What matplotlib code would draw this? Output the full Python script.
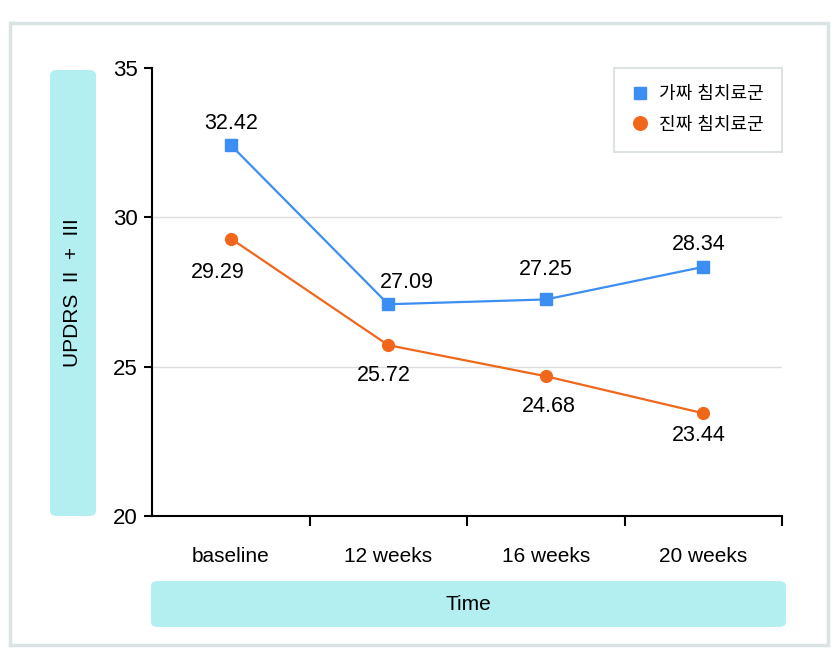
import matplotlib.pyplot as plt
from matplotlib.patches import FancyBboxPatch, Rectangle
import numpy as np

plt.rcParams['font.family'] = ['Liberation Sans', 'Noto Sans CJK KR', 'DejaVu Sans']

# data
times = ['baseline', '12 weeks', '16 weeks', '20 weeks']
sham = [32.42, 27.09, 27.25, 28.34]
real = [29.29, 25.72, 24.68, 23.44]
sham_name = '가짜 침치료군'
real_name = '진짜 침치료군'

blue = '#3d8ef2'
orange = '#f0671c'
cyan = '#b3eff0'

fig = plt.figure(figsize=(8.37, 6.67), dpi=100)
W, H = 837, 667

def fx(px):
    return px / W

def fy(py):
    return 1 - py / H

# outer frame
fig.patches.append(Rectangle((fx(10), fy(645)), fx(818), 622 / H,
                             transform=fig.transFigure, fill=False,
                             edgecolor='#dbe4e4', linewidth=2.5))

ax = fig.add_axes([fx(152), fy(516), 630 / W, 448 / H])
x = np.arange(len(times))
ax.plot(x, sham, color=blue, lw=1.6, marker='s', ms=8, label=sham_name, zorder=3)
ax.plot(x, real, color=orange, lw=1.6, marker='o', ms=8.5, label=real_name, zorder=3)

ax.set_xlim(-0.5, 3.5)
ax.set_ylim(20, 35)
ax.set_yticks([20, 25, 30, 35])
ax.tick_params(axis='y', labelsize=16, length=6, width=1.5, pad=4)
ax.set_xticks([0.5, 1.5, 2.5, 3.5])
ax.set_xticklabels([])
ax.tick_params(axis='x', length=7, width=1.5)
ax.set_xticks(x, minor=True)
ax.set_xticklabels(times, minor=True, fontsize=15)
ax.tick_params(axis='x', which='minor', length=0, pad=22)
for yv in [25, 30]:
    ax.axhline(yv, color='#dddddd', lw=1, zorder=0)
for s in ['top', 'right']:
    ax.spines[s].set_visible(False)
ax.spines['left'].set_linewidth(1.5)
ax.spines['bottom'].set_linewidth(1.5)

# value labels
sham_off = [(0, 22), (0.12, 22), (0, 30), (-0.03, 22)]
real_off = [(-0.08, -34), (-0.03, -30), (0.02, -30), (-0.03, -22)]
for i in range(len(times)):
    ax.annotate(f'{sham[i]:.2f}', (x[i], sham[i]), xytext=(sham_off[i][0] * 157, sham_off[i][1]),
                textcoords='offset pixels', ha='center', va='center', fontsize=15.5)
    ax.annotate(f'{real[i]:.2f}', (x[i], real[i]), xytext=(real_off[i][0] * 157, real_off[i][1]),
                textcoords='offset pixels', ha='center', va='center', fontsize=15.5)

leg = ax.legend(loc='upper right', bbox_to_anchor=(1.0, 1.0), fontsize=13,
                frameon=True, fancybox=False, edgecolor='#d5dcdc', borderaxespad=0,
                borderpad=1.0, labelspacing=0.75, handlelength=0.9, handletextpad=0.6,
                markerscale=1.15)
leg.get_frame().set_linewidth(1.5)
for h in leg.legend_handles:
    h.set_linestyle('none')

# y label box
fig.patches.append(FancyBboxPatch((fx(50), fy(516)), 46 / W, 446 / H,
                                  boxstyle='round,pad=0,rounding_size=0.008',
                                  transform=fig.transFigure, facecolor=cyan, edgecolor='none'))
fig.text(fx(73), fy(293), 'UPDRS  II  +  III', rotation=90, ha='center', va='center', fontsize=15)

# x label box
fig.patches.append(FancyBboxPatch((fx(151), fy(627)), 635 / W, 46 / H,
                                  boxstyle='round,pad=0,rounding_size=0.008',
                                  transform=fig.transFigure, facecolor=cyan, edgecolor='none'))
fig.text(fx(468), fy(604), 'Time', ha='center', va='center', fontsize=15)

fig.savefig('out.png', dpi=100)
